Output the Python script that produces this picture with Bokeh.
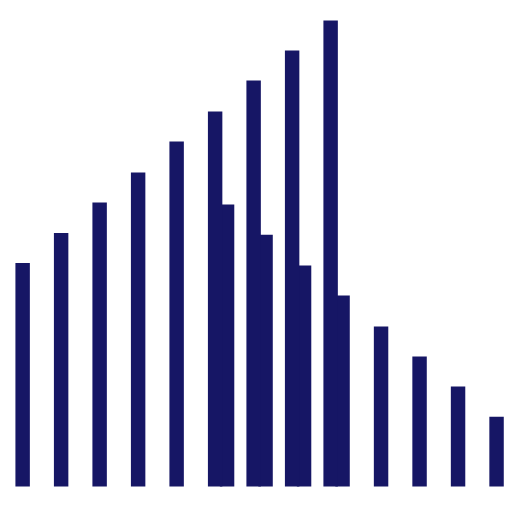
from bokeh.plotting import figure
from bokeh.models import Range1d, ColumnDataSource
from bokeh.embed import file_html
from bokeh.resources import INLINE

# Series A occupies groups 0..8, series B groups 5..12
groups_a = [0, 1, 2, 3, 4, 5, 6, 7, 8]
values_a = [7.38, 8.37, 9.37, 10.36, 11.39, 12.38, 13.40, 14.39, 15.38]
groups_b = [5, 6, 7, 8, 9, 10, 11, 12]
values_b = [9.31, 8.31, 7.29, 6.30, 5.28, 4.29, 3.30, 2.30]

DODGE = 0.155
WIDTH = 0.375
COLOR = "#161665"

src_a = ColumnDataSource(dict(x=[g - DODGE for g in groups_a], top=values_a))
src_b = ColumnDataSource(dict(x=[g + DODGE for g in groups_b], top=values_b))

p = figure(width=512, height=512, output_backend="svg", toolbar_location=None,
           x_range=Range1d(-0.730, 12.569), y_range=Range1d(-0.858, 16.04),
           min_border=0, min_border_left=0, min_border_right=0,
           min_border_top=0, min_border_bottom=0)
p.axis.visible = False
p.grid.visible = False
p.outline_line_color = None
p.background_fill_color = "white"
p.border_fill_color = "white"

p.vbar(x="x", top="top", bottom=0, width=WIDTH, source=src_b, fill_color=COLOR, line_color=None)
p.vbar(x="x", top="top", bottom=0, width=WIDTH, source=src_a, fill_color=COLOR, line_color=None)

open("out.html", "w").write(file_html(p, INLINE))
